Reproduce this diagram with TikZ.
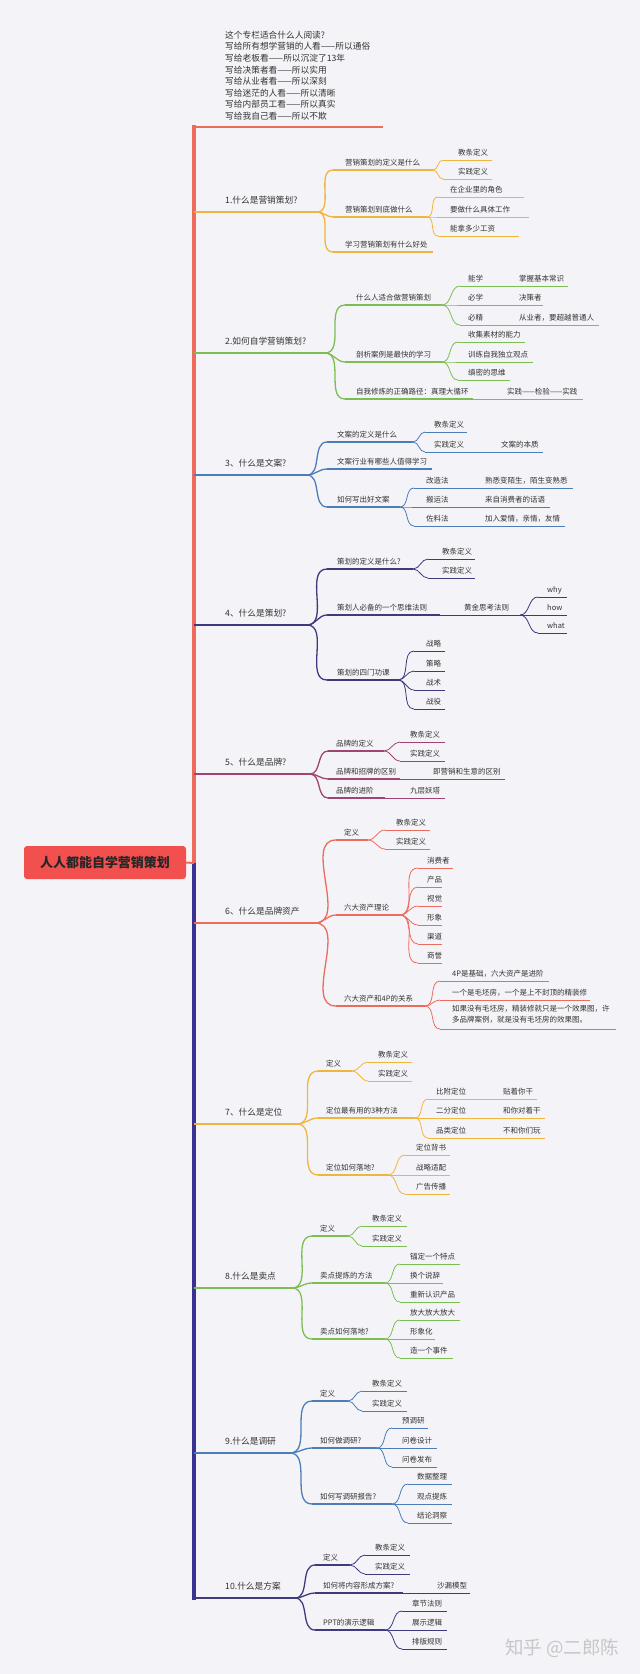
\documentclass[tikz,border=0pt]{standalone}
\usepackage{fontspec}
\setmainfont{Noto Sans CJK SC}
\definecolor{bg}{HTML}{F4F4F8}
\definecolor{txt}{HTML}{333333}
\definecolor{spred}{HTML}{EE6B5C}
\definecolor{spnavy}{HTML}{3A3291}
\definecolor{rootred}{HTML}{F24F4F}
\definecolor{ca}{HTML}{F2B53B}
\definecolor{cb}{HTML}{7DBE52}
\definecolor{cc}{HTML}{4C7DB6}
\definecolor{cd}{HTML}{3E3A7E}
\definecolor{ce}{HTML}{A04472}
\definecolor{cf}{HTML}{EC6B5E}
\newcommand\tp[8]{%
  \coordinate (#1-l) at (#4,#6);
  \coordinate (#1-r) at (#7,#6);
  \draw[draw=#2,ln#3] (#1-l) -- (#1-r);
  \node[tx#3,anchor=base west] (#1) at (#5,#6) {#8};
}
\newcommand\cns[4]{%
  \foreach \cc in {#4} {\draw[draw=#1,ln#2] (#3-r) to[out=0,in=180] (\cc-l);}
}
\begin{document}
\begin{tikzpicture}[x=1pt,y=-1pt,
  ln1/.style={line width=1.8pt},
  ln2/.style={line width=1.3pt},
  ln3/.style={line width=0.8pt},
  tx1/.style={font=\fontsize{8.7}{10}\selectfont,text=txt,inner sep=0pt,yshift=8.8pt},
  tx2/.style={font=\fontsize{7.5}{9}\selectfont,text=txt,inner sep=0pt,yshift=4.2pt},
  tx3/.style={tx2},
  hdr/.style={font=\fontsize{8.7}{10}\selectfont,text=txt,inner sep=0pt},
  rootbox/.style={rectangle,rounded corners=3pt,fill=rootred,minimum width=162pt,minimum height=33pt,
    font=\fontsize{13}{15}\selectfont\bfseries,text=black!85,inner sep=0pt},
  wm/.style={font=\fontsize{18.5}{20}\selectfont,text=black!22,inner sep=0pt}
]
\fill[bg] (0,0) rectangle (640,1674);
\useasboundingbox (0,0) rectangle (640,1674);

% header
\foreach \t [count=\i] in {这个专栏适合什么人阅读?,写给所有想学营销的人看——所以通俗,写给老板看——所以沉淀了13年,写给决策者看——所以实用,写给从业者看——所以深刻,写给迷茫的人看——所以清晰,写给内部员工看——所以真实,写给我自己看——所以不欺}
  \node[hdr,anchor=base west] (h\i) at (225,{38.3+(\i-1)*11.58}) {\t};

% root and spine
\node[rootbox] (root) at (105,862.5) {人人都能自学营销策划};
\coordinate (top) at (194,127);
\coordinate (topr) at (383,127);
\coordinate (jn) at (194,863);
\coordinate (bot) at (194,1600);
\draw[spnavy,line width=4pt] (jn) -- (bot);
\draw[spred,line width=2pt] (topr) -- (top);
\draw[spred,line width=4pt] (194,125) -- (jn);
\draw[spred,line width=2pt] (root.east) -- (jn);

% ---------- Section 1
\tp{s1}{ca}{1}{194}{225}{212}{317}{1.什么是营销策划?}
\tp{s1a}{ca}{2}{333}{345}{170}{433}{营销策划的定义是什么}
\tp{s1a1}{ca}{3}{443}{458}{160}{492}{教条定义}
\tp{s1a2}{ca}{3}{443}{458}{179}{492}{实践定义}
\tp{s1b}{ca}{2}{333}{345}{217}{427}{营销策划到底做什么}
\tp{s1b1}{ca}{3}{438}{450}{197}{524}{在企业里的角色}
\tp{s1b2}{ca}{3}{438}{450}{217}{529}{要做什么具体工作}
\tp{s1b3}{ca}{3}{438}{450}{236}{519}{能拿多少工资}
\tp{s1c}{ca}{2}{333}{345}{252}{433}{学习营销策划有什么好处}
\cns{ca}{2}{s1}{s1a,s1b,s1c}
\cns{ca}{3}{s1a}{s1a1,s1a2}
\cns{ca}{3}{s1b}{s1b1,s1b2,s1b3}

% ---------- Section 2
\tp{s2}{cb}{1}{194}{225}{353}{325}{2.如何自学营销策划?}
\tp{s2a}{cb}{2}{345}{356}{305}{442}{什么人适合做营销策划}
\tp{s2a1}{cb}{3}{460}{468}{286}{505}{能学}
\tp{s2a1x}{cb}{3}{505}{519}{286}{568}{掌握基本常识}
\tp{s2a2}{cb}{3}{460}{468}{305}{505}{必学}
\tp{s2a2x}{cb}{3}{505}{519}{305}{543}{决策者}
\tp{s2a3}{cb}{3}{460}{468}{325}{505}{必精}
\tp{s2a3x}{cb}{3}{505}{519}{325}{599}{从业者，要超越普通人}
\tp{s2b}{cb}{2}{345}{356}{362}{442}{剖析案例是最快的学习}
\tp{s2b1}{cb}{3}{458}{468}{342}{525}{收集素材的能力}
\tp{s2b2}{cb}{3}{458}{468}{362}{533}{训练自我独立观点}
\tp{s2b3}{cb}{3}{458}{468}{380}{510}{缜密的思维}
\tp{s2c}{cb}{2}{345}{356}{399}{473}{自我修炼的正确路径：真理大循环}
\tp{s2c1}{cb}{3}{473}{507}{399}{583}{实践——检验——实践}
\cns{cb}{2}{s2}{s2a,s2b,s2c}
\cns{cb}{3}{s2a}{s2a1,s2a2,s2a3}
\cns{cb}{3}{s2a1}{s2a1x}
\cns{cb}{3}{s2a2}{s2a2x}
\cns{cb}{3}{s2a3}{s2a3x}
\cns{cb}{3}{s2b}{s2b1,s2b2,s2b3}
\cns{cb}{3}{s2c}{s2c1}

% ---------- Section 3
\tp{s3}{cc}{1}{194}{225}{475}{307}{3、什么是文案?}
\tp{s3a}{cc}{2}{327}{337}{442}{413}{文案的定义是什么}
\tp{s3a1}{cc}{3}{425}{434}{432}{467}{教条定义}
\tp{s3a2}{cc}{3}{425}{434}{452}{480}{实践定义}
\tp{s3a2x}{cc}{3}{480}{501}{452}{543}{文案的本质}
\tp{s3b}{cc}{2}{327}{337}{469}{432}{文案行业有哪些人值得学习}
\tp{s3c}{cc}{2}{327}{337}{507}{400}{如何写出好文案}
\tp{s3c1}{cc}{3}{414}{426}{488}{470}{改造法}
\tp{s3c1x}{cc}{3}{470}{485}{488}{573}{熟悉变陌生，陌生变熟悉}
\tp{s3c2}{cc}{3}{414}{426}{507}{470}{搬运法}
\tp{s3c2x}{cc}{3}{470}{485}{507}{550}{来自消费者的话语}
\tp{s3c3}{cc}{3}{414}{426}{526}{470}{佐料法}
\tp{s3c3x}{cc}{3}{470}{485}{526}{565}{加入爱情，亲情，友情}
\cns{cc}{2}{s3}{s3a,s3b,s3c}
\cns{cc}{3}{s3a}{s3a1,s3a2}
\cns{cc}{3}{s3a2}{s3a2x}
\cns{cc}{3}{s3c}{s3c1,s3c2,s3c3}
\cns{cc}{3}{s3c1}{s3c1x}
\cns{cc}{3}{s3c2}{s3c2x}
\cns{cc}{3}{s3c3}{s3c3x}

% ---------- Section 4
\tp{s4}{cd}{1}{194}{225}{625}{307}{4、什么是策划?}
\tp{s4a}{cd}{2}{327}{337}{569}{413}{策划的定义是什么?}
\tp{s4a1}{cd}{3}{428}{442}{559}{475}{教条定义}
\tp{s4a2}{cd}{3}{428}{442}{578}{475}{实践定义}
\tp{s4b}{cd}{2}{327}{337}{615}{440}{策划人必备的一个思维法则}
\tp{s4b1}{cd}{3}{440}{464}{615}{520}{黄金思考法则}
\tp{s4b1a}{cd}{3}{538}{547}{597}{567}{why}
\tp{s4b1b}{cd}{3}{538}{547}{615}{567}{how}
\tp{s4b1c}{cd}{3}{538}{547}{633}{567}{what}
\tp{s4c}{cd}{2}{327}{337}{680}{398}{策划的四门功课}
\tp{s4c1}{cd}{3}{414}{426}{651}{445}{战略}
\tp{s4c2}{cd}{3}{414}{426}{671}{445}{策略}
\tp{s4c3}{cd}{3}{414}{426}{690}{445}{战术}
\tp{s4c4}{cd}{3}{414}{426}{709}{445}{战役}
\cns{cd}{2}{s4}{s4a,s4b,s4c}
\cns{cd}{3}{s4a}{s4a1,s4a2}
\cns{cd}{3}{s4b}{s4b1}
\cns{cd}{3}{s4b1}{s4b1a,s4b1b,s4b1c}
\cns{cd}{3}{s4c}{s4c1,s4c2,s4c3,s4c4}

% ---------- Section 5
\tp{s5}{ce}{1}{194}{225}{774}{310}{5、什么是品牌?}
\tp{s5a}{ce}{2}{328}{336}{751}{384}{品牌的定义}
\tp{s5a1}{ce}{3}{400}{410}{742}{445}{教条定义}
\tp{s5a2}{ce}{3}{400}{410}{761}{445}{实践定义}
\tp{s5b}{ce}{2}{328}{336}{779}{400}{品牌和招牌的区别}
\tp{s5b1}{ce}{3}{400}{433}{779}{505}{即营销和生意的区别}
\tp{s5c}{ce}{2}{328}{336}{798}{385}{品牌的进阶}
\tp{s5c1}{ce}{3}{385}{410}{798}{445}{九层妖塔}
\cns{ce}{2}{s5}{s5a,s5b,s5c}
\cns{ce}{3}{s5a}{s5a1,s5a2}
\cns{ce}{3}{s5b}{s5b1}
\cns{ce}{3}{s5c}{s5c1}

% ---------- Section 6
\tp{s6}{cf}{1}{194}{225}{923}{315}{6、什么是品牌资产}
\tp{s6a}{cf}{2}{336}{344}{840}{368}{定义}
\tp{s6a1}{cf}{3}{385}{396}{830}{430}{教条定义}
\tp{s6a2}{cf}{3}{385}{396}{849}{430}{实践定义}
\tp{s6b}{cf}{2}{336}{344}{915}{400}{六大资产理论}
\tp{s6b1}{cf}{3}{418}{427}{868}{453}{消费者}
\tp{s6b2}{cf}{3}{418}{427}{887}{442}{产品}
\tp{s6b3}{cf}{3}{418}{427}{906}{442}{视觉}
\tp{s6b4}{cf}{3}{418}{427}{925}{442}{形象}
\tp{s6b5}{cf}{3}{418}{427}{944}{442}{渠道}
\tp{s6b6}{cf}{3}{418}{427}{963}{442}{商誉}
\tp{s6c}{cf}{2}{336}{344}{1006}{425}{六大资产和4P的关系}
\tp{s6c1}{cf}{3}{440}{452}{981}{549}{4P是基础，六大资产是进阶}
\tp{s6c2}{cf}{3}{440}{452}{1000}{590}{一个是毛坯房，一个是上不封顶的精装修}
\coordinate (s6c3-l) at (440,1029);
\coordinate (s6c3-r) at (616,1029);
\draw[draw=cf,ln3] (s6c3-l) -- (s6c3-r);
\node[tx3,yshift=-1.2pt,anchor=south west,align=left,font=\fontsize{7.5}{10.6}\selectfont] (s6c3) at (452,1026)
  {如果没有毛坯房，精装修就只是一个效果图，许\\多品牌案例，就是没有毛坯房的效果图。};
\cns{cf}{2}{s6}{s6a,s6b,s6c}
\cns{cf}{3}{s6a}{s6a1,s6a2}
\cns{cf}{3}{s6b}{s6b1,s6b2,s6b3,s6b4,s6b5,s6b6}
\cns{cf}{3}{s6c}{s6c1,s6c2,s6c3}

% ---------- Section 7
\tp{s7}{ca}{1}{194}{225}{1124}{297}{7、什么是定位}
\tp{s7a}{ca}{2}{318}{326}{1071}{352}{定义}
\tp{s7a1}{ca}{3}{368}{378}{1062}{412}{教条定义}
\tp{s7a2}{ca}{3}{368}{378}{1081}{412}{实践定义}
\tp{s7b}{ca}{2}{318}{326}{1118}{415}{定位最有用的3种方法}
\tp{s7b1}{ca}{3}{428}{436}{1099}{488}{比附定位}
\tp{s7b1x}{ca}{3}{488}{503}{1099}{537}{贴着你干}
\tp{s7b2}{ca}{3}{428}{436}{1118}{488}{二分定位}
\tp{s7b2x}{ca}{3}{488}{503}{1118}{545}{和你对着干}
\tp{s7b3}{ca}{3}{428}{436}{1138}{488}{品类定位}
\tp{s7b3x}{ca}{3}{488}{503}{1138}{545}{不和你们玩}
\tp{s7c}{ca}{2}{318}{326}{1175}{388}{定位如何落地?}
\tp{s7c1}{ca}{3}{405}{416}{1155}{450}{定位背书}
\tp{s7c2}{ca}{3}{405}{416}{1175}{450}{战略适配}
\tp{s7c3}{ca}{3}{405}{416}{1194}{450}{广告传播}
\cns{ca}{2}{s7}{s7a,s7b,s7c}
\cns{ca}{3}{s7a}{s7a1,s7a2}
\cns{ca}{3}{s7b}{s7b1,s7b2,s7b3}
\cns{ca}{3}{s7b1}{s7b1x}
\cns{ca}{3}{s7b2}{s7b2x}
\cns{ca}{3}{s7b3}{s7b3x}
\cns{ca}{3}{s7c}{s7c1,s7c2,s7c3}

% ---------- Section 8
\tp{s8}{cb}{1}{194}{225}{1288}{292}{8.什么是卖点}
\tp{s8a}{cb}{2}{312}{320}{1236}{348}{定义}
\tp{s8a1}{cb}{3}{362}{372}{1226}{407}{教条定义}
\tp{s8a2}{cb}{3}{362}{372}{1246}{407}{实践定义}
\tp{s8b}{cb}{2}{312}{320}{1283}{385}{卖点提炼的方法}
\tp{s8b1}{cb}{3}{400}{410}{1264}{460}{锚定一个特点}
\tp{s8b2}{cb}{3}{400}{410}{1283}{443}{换个说辞}
\tp{s8b3}{cb}{3}{400}{410}{1302}{460}{重新认识产品}
\tp{s8c}{cb}{2}{312}{320}{1339}{385}{卖点如何落地?}
\tp{s8c1}{cb}{3}{400}{410}{1320}{460}{放大放大放大}
\tp{s8c2}{cb}{3}{400}{410}{1339}{435}{形象化}
\tp{s8c3}{cb}{3}{400}{410}{1358}{453}{造一个事件}
\cns{cb}{2}{s8}{s8a,s8b,s8c}
\cns{cb}{3}{s8a}{s8a1,s8a2}
\cns{cb}{3}{s8b}{s8b1,s8b2,s8b3}
\cns{cb}{3}{s8c}{s8c1,s8c2,s8c3}

% ---------- Section 9
\tp{s9}{cc}{1}{194}{225}{1453}{290}{9.什么是调研}
\tp{s9a}{cc}{2}{312}{320}{1401}{348}{定义}
\tp{s9a1}{cc}{3}{362}{372}{1391}{407}{教条定义}
\tp{s9a2}{cc}{3}{362}{372}{1411}{407}{实践定义}
\tp{s9b}{cc}{2}{312}{320}{1448}{377}{如何做调研?}
\tp{s9b1}{cc}{3}{392}{402}{1428}{428}{预调研}
\tp{s9b2}{cc}{3}{392}{402}{1448}{437}{问卷设计}
\tp{s9b3}{cc}{3}{392}{402}{1467}{437}{问卷发布}
\tp{s9c}{cc}{2}{312}{320}{1504}{392}{如何写调研报告?}
\tp{s9c1}{cc}{3}{408}{417}{1484}{452}{数据整理}
\tp{s9c2}{cc}{3}{408}{417}{1504}{452}{观点提炼}
\tp{s9c3}{cc}{3}{408}{417}{1523}{452}{结论洞察}
\cns{cc}{2}{s9}{s9a,s9b,s9c}
\cns{cc}{3}{s9a}{s9a1,s9a2}
\cns{cc}{3}{s9b}{s9b1,s9b2,s9b3}
\cns{cc}{3}{s9c}{s9c1,s9c2,s9c3}

% ---------- Section 10
\tp{s10}{cd}{1}{194}{225}{1598}{295}{10.什么是方案}
\tp{s10a}{cd}{2}{315}{323}{1565}{350}{定义}
\tp{s10a1}{cd}{3}{365}{375}{1555}{410}{教条定义}
\tp{s10a2}{cd}{3}{365}{375}{1574}{410}{实践定义}
\tp{s10b}{cd}{2}{315}{323}{1593}{403}{如何将内容形成方案?}
\tp{s10b1}{cd}{3}{403}{437}{1593}{470}{沙漏模型}
\tp{s10c}{cd}{2}{315}{323}{1630}{385}{PPT的演示逻辑}
\tp{s10c1}{cd}{3}{402}{412}{1611}{447}{章节法则}
\tp{s10c2}{cd}{3}{402}{412}{1630}{447}{展示逻辑}
\tp{s10c3}{cd}{3}{402}{412}{1649}{447}{排版规则}
\cns{cd}{2}{s10}{s10a,s10b,s10c}
\cns{cd}{3}{s10a}{s10a1,s10a2}
\cns{cd}{3}{s10b}{s10b1}
\cns{cd}{3}{s10c}{s10c1,s10c2,s10c3}

% watermark
\node[wm,anchor=west] (wm) at (505,1648) {知乎 @二郎陈};
\end{tikzpicture}
\end{document}
